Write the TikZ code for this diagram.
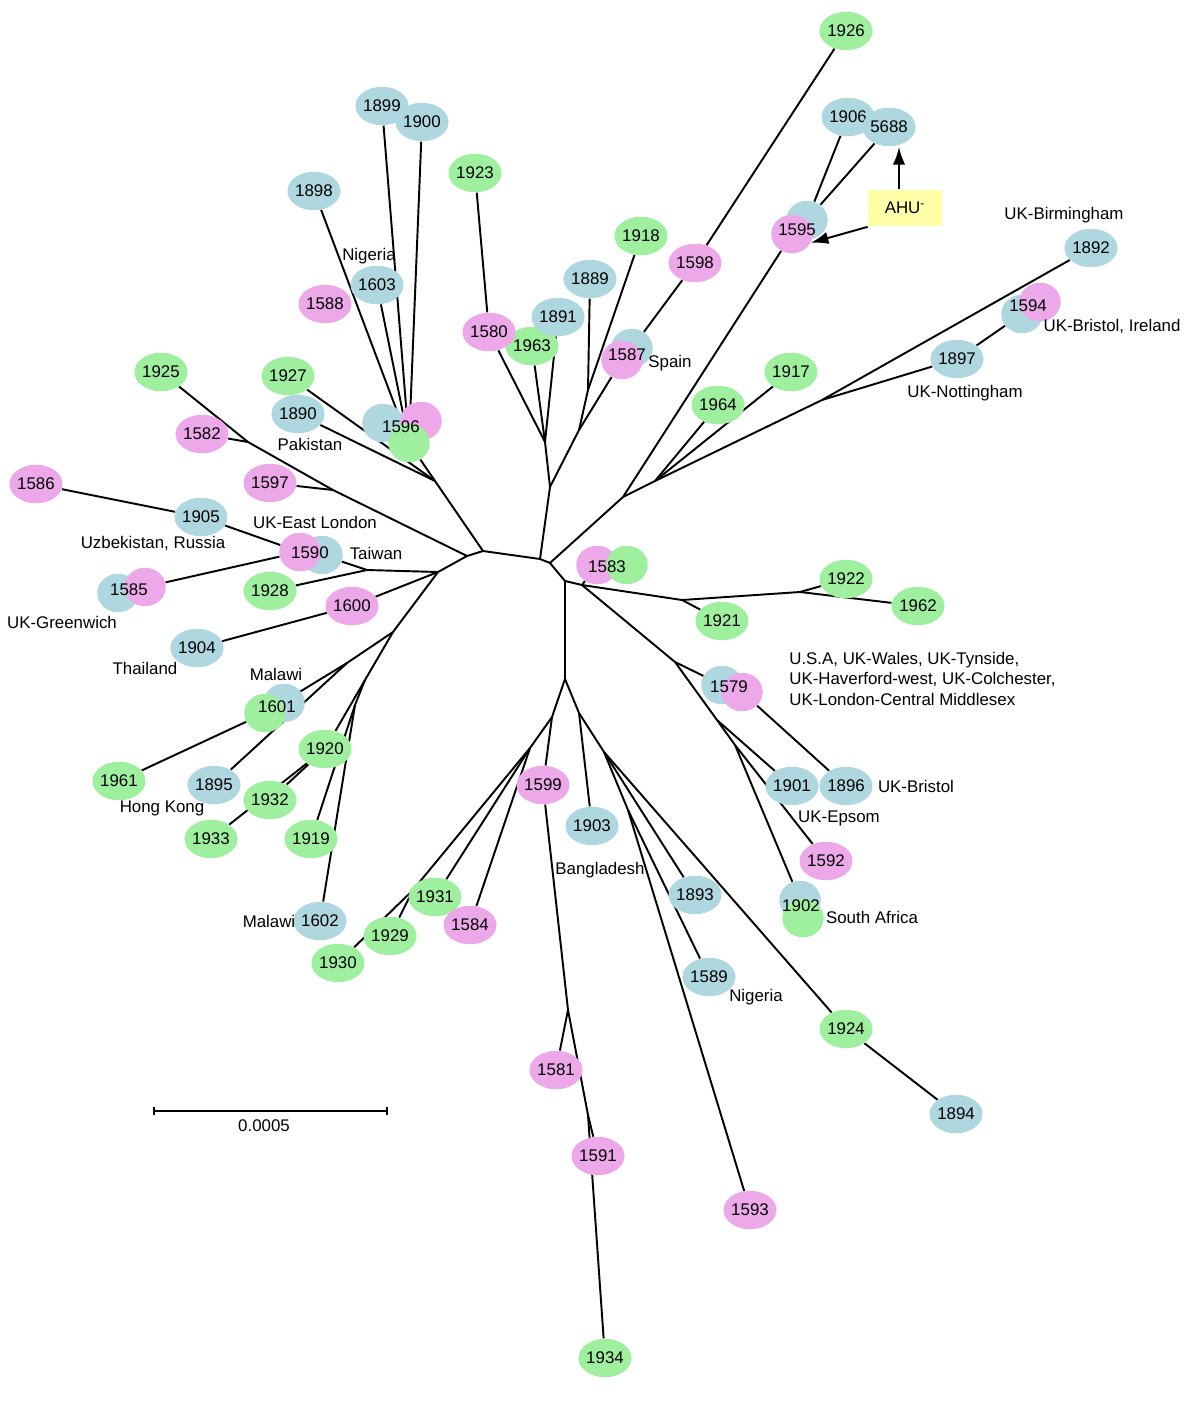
\documentclass[tikz,border=0pt]{standalone}
\usepackage{fontspec}
\setmainfont{Liberation Sans}
\usetikzlibrary{shapes.geometric,arrows.meta,backgrounds}
\definecolor{isoblue}{RGB}{174,215,224}
\definecolor{isopink}{RGB}{236,168,232}
\definecolor{isogreen}{RGB}{158,240,158}
\definecolor{ahuyellow}{RGB}{255,255,168}
\newcommand{\numfont}{\fontsize{9.6}{11.6}\selectfont}
\tikzset{
  leaf/.style={ellipse, minimum width=0.83cm, minimum height=0.77cm, inner sep=0pt, font=\numfont},
  blu/.style={leaf, fill=isoblue},
  pnk/.style={leaf, fill=isopink},
  grn/.style={leaf, fill=isogreen},
  num/.style={inner sep=0pt, font=\numfont},
  place/.style={inner sep=0pt, font=\numfont},
  branch/.style={line width=1.1pt},
}
\begin{document}
\begin{tikzpicture}[x=0.02cm,y=-0.02cm]
\useasboundingbox (0,0) rectangle (1200,1406);

% isolates
\foreach \n/\x/\y in {1926/846/31, 1923/475/173, 1918/641/236, 1963/532/346, 1927/288/376, 1925/161/372,
  1917/791/372, 1964/718/405, 1928/270/591, 1922/846/579, 1962/918/606, 1921/722/621, 1920/325/749,
  1961/119/781, 1932/270/800, 1933/211/839, 1919/311/839, 1931/435/897, 1929/390/936, 1930/338/963,
  1924/846/1029, 1934/605/1358}
  \node[grn] (n\n) at (\x,\y) {\n};
\foreach \n/\x/\y in {1598/695/263, 1588/325/304, 1580/489/332, 1582/202/434, 1597/270/483, 1586/36/484,
  1600/352/606, 1599/543/785, 1584/470/925, 1592/826/861, 1581/556/1070, 1591/598/1156, 1593/750/1210}
  \node[pnk] (n\n) at (\x,\y) {\n};
\foreach \n/\x/\y in {1899/382/106, 1900/422/122, 1906/848/117, 5688/889/127, 1898/314/191, 1892/1091/248,
  1889/590/279, 1603/377/285, 1891/558/317, 1890/298/414, 1897/957/359, 1905/201/517, 1904/197/648,
  1895/214/785, 1903/592/826, 1901/792/786, 1896/846/786, 1893/695/895, 1602/320/921, 1589/709/977,
  1894/956/1114}
  \node[blu] (n\n) at (\x,\y) {\n};

% shared profiles
\node[blu] (n1596b) at (383,423) {};
\node[pnk] (n1596p) at (421,421) {};
\node[grn] (n1596) at (409,443) {};
\node[num] (t1596) at (401,427) {1596};
\node[blu] (n1590b) at (322,555) {};
\node[pnk] (n1590) at (300,552) {};
\node[num] (t1590) at (310,553) {1590};
\node[blu] (n1585b) at (118,593) {};
\node[pnk] (n1585) at (145,587) {};
\node[num] (t1585) at (129,590) {1585};
\node[blu] (n1601b) at (284,703) {};
\node[grn] (n1601) at (265,713) {};
\node[num] (t1601) at (277,707) {1601};
\node[pnk] (n1583) at (597,565) {};
\node[grn] (n1583g) at (627,565) {};
\node[num] (t1583) at (607,567) {1583};
\node[blu] (n1579b) at (722,685) {};
\node[pnk] (n1579) at (742,692) {};
\node[num] (t1579) at (729,687) {1579};
\node[blu] (n1902b) at (800,900) {};
\node[grn] (n1902) at (803,918) {};
\node[num] (t1902) at (801,906) {1902};
\node[blu] (n1594b) at (1022,314) {};
\node[pnk] (n1594) at (1040,302) {};
\node[num] (t1594) at (1028,306) {1594};
\node[blu] (n1595b) at (807,220) {};
\node[pnk] (n1595) at (792,234) {};
\node[num] (t1595) at (797,230) {1595};
\node[blu] (n1587b) at (632,348) {};
\node[pnk] (n1587) at (622,360) {};
\node[num] (t1587) at (627,355) {1587};

% places
\node[place] (pNig1) at (369,256) {Nigeria};
\node[place] (pPak) at (310,444) {Pakistan};
\node[place] (pEL) at (315,522) {UK-East London};
\node[place] (pUzb) at (153,543) {Uzbekistan, Russia};
\node[place] (pTai) at (376,553) {Taiwan};
\node[place] (pGre) at (62,622) {UK-Greenwich};
\node[place] (pTha) at (145,668) {Thailand};
\node[place] (pMal1) at (276,674) {Malawi};
\node[place] (pHK) at (162,808) {Hong Kong};
\node[place] (pMal2) at (269,921) {Malawi};
\node[place] (pBan) at (600,870) {Bangladesh};
\node[place] (pNig2) at (756,997) {Nigeria};
\node[place] (pSA) at (872,917) {South Africa};
\node[place] (pEps) at (839,818) {UK-Epsom};
\node[place] (pBri) at (916,786) {UK-Bristol};
\node[place, anchor=north west, align=left] (pUSA) at (789,652) {U.S.A, UK-Wales, UK-Tynside,\\UK-Haverford-west, UK-Colchester,\\UK-London-Central Middlesex};
\node[place] (pSpa) at (670,363) {Spain};
\node[place] (pBir) at (1064,215) {UK-Birmingham};
\node[place] (pBrI) at (1112,326) {UK-Bristol, Ireland};
\node[place] (pNot) at (965,393) {UK-Nottingham};

% AHU- marker
\node[fill=ahuyellow, minimum width=1.48cm, minimum height=0.74cm, inner sep=0pt, font=\numfont] (ahu) at (905,208) {AHU\textsuperscript{-}};
\coordinate (ahutip) at (899,147);
\draw[branch,-{Latex[length=10pt,width=7pt]}] (ahutip |- ahu.north) -- (ahutip);
\draw[branch,-{Latex[length=10pt,width=7pt]}] (ahu.south west) -- (n1595.-25);

% branch points
\coordinate (ja) at (483,551);
\coordinate (jb) at (467,556);
\coordinate (jd) at (438,572);
\coordinate (jc) at (540,559);
\coordinate (je) at (550,563);
\coordinate (jf) at (565,581);
\coordinate (jg) at (582,585);
\coordinate (jh) at (565,679);
\coordinate (jz) at (435,481);
\coordinate (j1597) at (333,490);
\coordinate (j1582) at (248,442);
\coordinate (j1590) at (367,570);
\coordinate (j1) at (393,632);
\coordinate (j1b) at (347,663);
\coordinate (j2) at (365,680);
\coordinate (j3) at (355,705);
\coordinate (j5) at (550,487);
\coordinate (j6) at (545,442);
\coordinate (j7) at (579,430);
\coordinate (j8) at (588,390);
\coordinate (j9) at (623,497);
\coordinate (j10) at (655,481);
\coordinate (j12) at (822,400);
\coordinate (j1921) at (682,600);
\coordinate (j1922) at (800,592);
\coordinate (j1579) at (675,662);
\coordinate (j1901) at (717,720);
\coordinate (j1592) at (735,745);
\coordinate (jm) at (579,713);
\coordinate (jn) at (604,752);
\coordinate (jq) at (628,810);
\coordinate (js) at (552,717);
\coordinate (ju) at (530,748);
\coordinate (jk) at (413,890);
\coordinate (jx) at (568,1010);
\coordinate (jy) at (588,1115);

\begin{scope}[on background layer]
  \foreach \a/\b in {ja/jb, ja/jc, ja/jz, jb/jd, jb/j1597, j1597/j1582, j1582/n1925, j1582/n1582, j1597/n1597,
    jz/n1596, jz/n1890, jz/n1927, n1596/n1898, n1596/n1899, n1596/n1900, n1596/n1603,
    jd/j1590, j1590/n1590b, j1590/n1928, jd/n1600, n1600/n1904, jd/j1,
    n1590/n1905, n1905/n1586, n1590/n1585,
    j1/j1b, j1b/n1601, j1b/n1895, n1601/n1961, j1/j2, j2/n1920, j2/j3, j3/n1919, j3/n1602, n1920/n1932, n1920/n1933,
    jc/je, jc/j5, j5/j6, j5/j7, j7/n1587, j7/j8, j8/n1889, j8/n1918, j6/n1580, j6/n1963, j6/n1891, n1580/n1923,
    n1587b/n1598, n1598/n1926,
    je/jf, je/j9, j9/n1595, n1595b/n1906, n1595b/n5688, j9/j10, j10/n1964, j10/n1917, j10/j12, j12/n1892,
    j12/n1897, n1897/n1594b,
    jf/jg, jg/n1583, jg/j1921, j1921/n1921, j1921/j1922, j1922/n1922, j1922/n1962,
    jg/j1579, j1579/n1579b, n1579/n1896, j1579/j1901, j1901/n1901, j1901/j1592, j1592/n1592, j1592/n1902b,
    jf/jh, jh/jm, jm/n1903, jm/jn, jn/n1893, jn/n1924, jn/jq, jq/n1589, jq/n1593, n1924/n1894,
    jh/js, js/n1599, js/ju, ju/n1584, ju/n1931, ju/jk, jk/n1929, jk/n1930,
    n1599/jx, jx/n1581, jx/jy, jy/n1591, jy/n1934}
    \draw[branch] (\a) -- (\b);
\end{scope}

% scale bar
\coordinate (sbl) at (154,1111);
\coordinate (sbr) at (387,1111);
\draw[line width=0.8pt] (sbl) -- (sbr);
\draw[line width=0.8pt] (sbl) ++(0,-4) -- ++(0,8);
\draw[line width=0.8pt] (sbr) ++(0,-4) -- ++(0,8);
\node[place] (sbt) at (264,1126) {0.0005};
\end{tikzpicture}
\end{document}
